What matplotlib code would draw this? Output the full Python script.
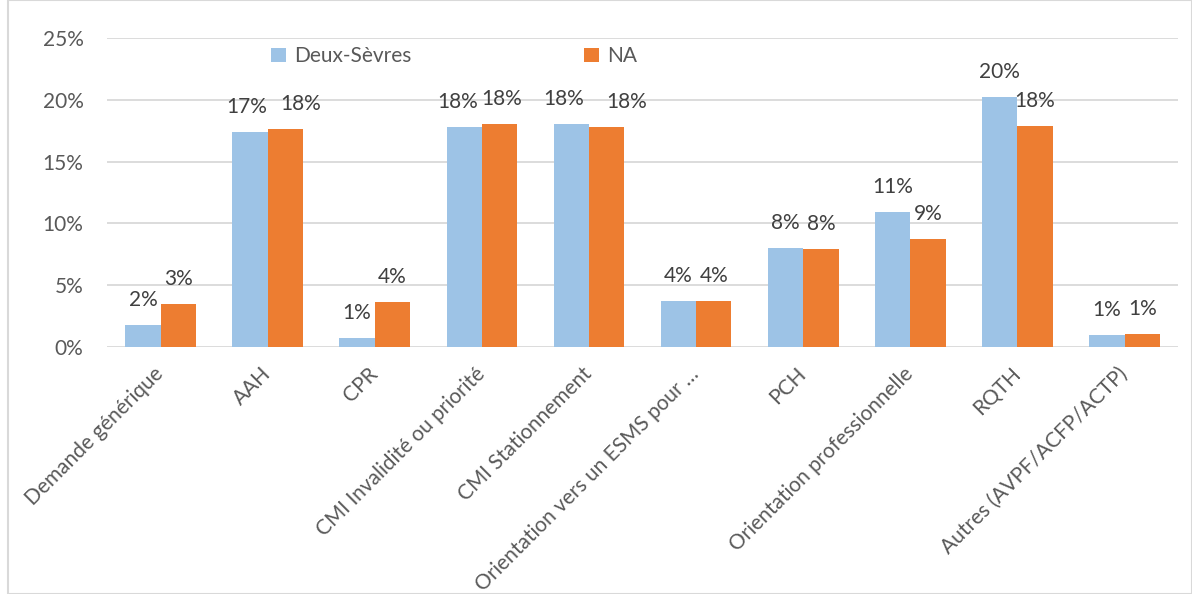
import numpy as np
import matplotlib.pyplot as plt
from matplotlib.patches import Rectangle

categories = [
    "Demande générique",
    "AAH",
    "CPR",
    "CMI Invalidité ou priorité",
    "CMI Stationnement",
    "Orientation vers un ESMS pour …",
    "PCH",
    "Orientation professionnelle",
    "RQTH",
    "Autres (AVPF/ACFP/ACTP)",
]
deux_sevres = [1.8, 17.4, 0.75, 17.8, 18.05, 3.7, 8.05, 10.95, 20.2, 1.0]
na = [3.45, 17.65, 3.65, 18.05, 17.8, 3.7, 7.9, 8.7, 17.85, 1.05]
labels_ds = ["2%", "17%", "1%", "18%", "18%", "4%", "8%", "11%", "20%", "1%"]
labels_na = ["3%", "18%", "4%", "18%", "18%", "4%", "8%", "9%", "18%", "1%"]

# horizontal nudges (pixels) so neighbouring labels don't collide, like Excel does
nudge_ds = [0, -3, 0, -7, -8, 0, 0, 0, 0, 0]
nudge_na = [0, 15, 0, 2, 20, 0, 0, 0, 0, 0]

BLUE = "#9DC3E6"
ORANGE = "#ED7D31"
GRID = "#D9D9D9"
FS = 15

plt.rcParams["font.family"] = ["Lato", "DejaVu Sans"]

fig = plt.figure(figsize=(11.92, 5.94), dpi=100)
ax = fig.add_axes([0.0898, 0.4158, 0.8985, 0.5202])

# light border around the chart area
fig.patches.append(Rectangle((8 / 1192, 0), 1 - 8 / 1192, 1, transform=fig.transFigure,
                             fill=False, edgecolor=GRID, linewidth=1.5))

x = np.arange(len(categories))
w = 0.33
ds = np.array(deux_sevres) / 100
nv = np.array(na) / 100
ax.bar(x - w / 2, ds, w, color=BLUE, label="Deux-Sèvres", zorder=2)
ax.bar(x + w / 2, nv, w, color=ORANGE, label="NA", zorder=2)

for xi, v, t, dx in zip(x - w / 2, ds, labels_ds, nudge_ds):
    ax.annotate(t, (xi, v), xytext=(dx, 25), textcoords="offset pixels",
                ha="center", va="center", fontsize=FS, color="#404040")
for xi, v, t, dx in zip(x + w / 2, nv, labels_na, nudge_na):
    ax.annotate(t, (xi, v), xytext=(dx, 25), textcoords="offset pixels",
                ha="center", va="center", fontsize=FS, color="#404040")

ax.set_xlim(-0.5, len(categories) - 0.5)
ax.set_ylim(0, 0.25)
ax.set_yticks(np.arange(0, 0.26, 0.05))
ax.set_yticklabels([f"{int(round(t * 100))}%" for t in np.arange(0, 0.26, 0.05)])
ax.yaxis.grid(True, color=GRID, linewidth=1.3, zorder=0)
ax.set_axisbelow(True)
for s in ax.spines.values():
    s.set_visible(False)
ax.tick_params(axis="both", length=0, labelsize=FS, labelcolor="#595959")
ax.tick_params(axis="y", pad=17)

ax.set_xticks(x)
ax.set_xticklabels(categories, rotation=45, ha="right", va="center",
                   rotation_mode="anchor")
ax.tick_params(axis="x", pad=17)

ax.legend(loc="upper center", bbox_to_anchor=(0.324, 1.0), ncol=2, frameon=False,
          fontsize=FS, labelcolor="#595959", handlelength=0.7, handleheight=0.7,
          handletextpad=0.4, columnspacing=8.3, borderaxespad=0.0)

fig.savefig("out.png", dpi=100)
